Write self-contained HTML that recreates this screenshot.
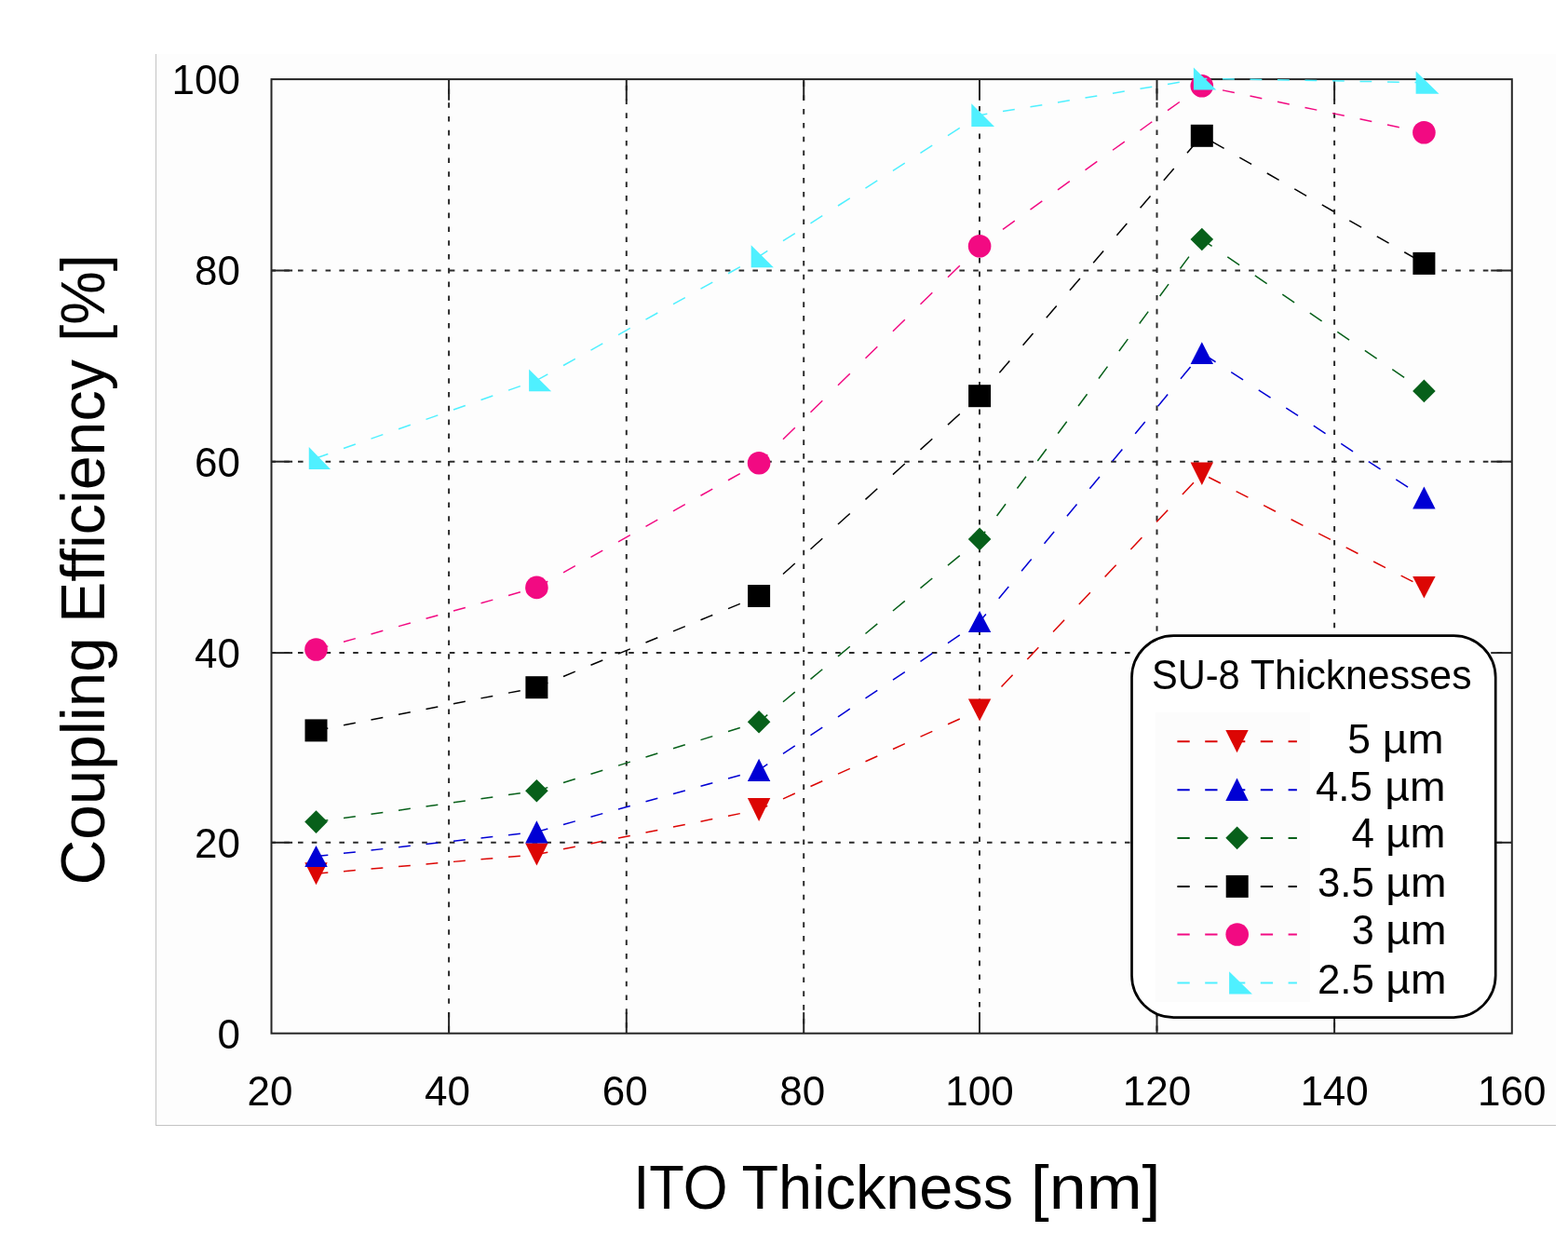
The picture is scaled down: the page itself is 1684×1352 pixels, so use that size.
<!DOCTYPE html>
<html><head><meta charset="utf-8"><title>Coupling Efficiency vs ITO Thickness</title>
<style>
html,body{margin:0;padding:0;background:#fff;}
body{width:1684px;height:1352px;overflow:hidden;}
svg{display:block;}
</style></head><body>
<svg width="1684" height="1352" viewBox="0 0 1684 1352">
<rect x="0" y="0" width="1684" height="1352" fill="#ffffff"/>
<rect x="168" y="58" width="1503" height="1150" fill="#fdfdfd"/>
<rect x="167" y="58" width="1" height="1151" fill="#c3c3c3"/>
<rect x="167" y="1208" width="1504" height="1" fill="#c3c3c3"/>
<line x1="291.5" y1="904.8" x2="1623.8" y2="904.8" stroke="#2b2b2b" stroke-width="2" stroke-dasharray="5.6 9.2" stroke-dashoffset="1.12"/>
<line x1="291.5" y1="701.1" x2="1623.8" y2="701.1" stroke="#2b2b2b" stroke-width="2" stroke-dasharray="5.6 9.2" stroke-dashoffset="1.12"/>
<line x1="291.5" y1="495.7" x2="1623.8" y2="495.7" stroke="#2b2b2b" stroke-width="2" stroke-dasharray="5.6 9.2" stroke-dashoffset="1.12"/>
<line x1="291.5" y1="290.5" x2="1623.8" y2="290.5" stroke="#2b2b2b" stroke-width="2" stroke-dasharray="5.6 9.2" stroke-dashoffset="1.12"/>
<line x1="482.1" y1="85.1" x2="482.1" y2="1109.7" stroke="#2b2b2b" stroke-width="2" stroke-dasharray="5.6 9.2" stroke-dashoffset="4.51"/>
<line x1="672.8" y1="85.1" x2="672.8" y2="1109.7" stroke="#2b2b2b" stroke-width="2" stroke-dasharray="5.6 9.2" stroke-dashoffset="8.21"/>
<line x1="863.2" y1="85.1" x2="863.2" y2="1109.7" stroke="#2b2b2b" stroke-width="2" stroke-dasharray="5.6 9.2" stroke-dashoffset="12.41"/>
<line x1="1052" y1="85.1" x2="1052" y2="1109.7" stroke="#2b2b2b" stroke-width="2" stroke-dasharray="5.6 9.2" stroke-dashoffset="0.72"/>
<line x1="1242.5" y1="85.1" x2="1242.5" y2="1109.7" stroke="#2b2b2b" stroke-width="2" stroke-dasharray="5.6 9.2" stroke-dashoffset="4.92"/>
<line x1="1433.1" y1="85.1" x2="1433.1" y2="1109.7" stroke="#2b2b2b" stroke-width="2" stroke-dasharray="5.6 9.2" stroke-dashoffset="8.42"/>
<g stroke="#262626" stroke-width="2"><line x1="291.5" y1="904.8" x2="314.1" y2="904.8"/><line x1="1623.8" y1="904.8" x2="1601.2" y2="904.8"/><line x1="291.5" y1="701.1" x2="314.1" y2="701.1"/><line x1="1623.8" y1="701.1" x2="1601.2" y2="701.1"/><line x1="291.5" y1="495.7" x2="314.1" y2="495.7"/><line x1="1623.8" y1="495.7" x2="1601.2" y2="495.7"/><line x1="291.5" y1="290.5" x2="314.1" y2="290.5"/><line x1="1623.8" y1="290.5" x2="1601.2" y2="290.5"/><line x1="482.1" y1="1109.7" x2="482.1" y2="1087.1"/><line x1="482.1" y1="85.1" x2="482.1" y2="107.7"/><line x1="672.8" y1="1109.7" x2="672.8" y2="1087.1"/><line x1="672.8" y1="85.1" x2="672.8" y2="107.7"/><line x1="863.2" y1="1109.7" x2="863.2" y2="1087.1"/><line x1="863.2" y1="85.1" x2="863.2" y2="107.7"/><line x1="1052" y1="1109.7" x2="1052" y2="1087.1"/><line x1="1052" y1="85.1" x2="1052" y2="107.7"/><line x1="1242.5" y1="1109.7" x2="1242.5" y2="1087.1"/><line x1="1242.5" y1="85.1" x2="1242.5" y2="107.7"/><line x1="1433.1" y1="1109.7" x2="1433.1" y2="1087.1"/><line x1="1433.1" y1="85.1" x2="1433.1" y2="107.7"/></g>
<rect x="291.5" y="85.1" width="1332.3" height="1024.6" fill="none" stroke="#262626" stroke-width="2"/>
<line x1="339.5" y1="938.2" x2="576.4" y2="917.6" stroke="#dc0604" stroke-width="1.5" stroke-dasharray="12.85 16.76" stroke-dashoffset="0"/>
<line x1="576.4" y1="917.6" x2="815.1" y2="869.55" stroke="#dc0604" stroke-width="1.5" stroke-dasharray="13.06 17.03" stroke-dashoffset="0.92"/>
<line x1="815.1" y1="869.55" x2="1052.1" y2="762.35" stroke="#dc0604" stroke-width="1.5" stroke-dasharray="14.05 18.33" stroke-dashoffset="3.95"/>
<line x1="1052.1" y1="762.35" x2="1290.8" y2="508.75" stroke="#dc0604" stroke-width="1.5" stroke-dasharray="17.58 22.93" stroke-dashoffset="6.32"/>
<line x1="1290.8" y1="508.75" x2="1529.4" y2="630.75" stroke="#dc0604" stroke-width="1.5" stroke-dasharray="14.38 18.76" stroke-dashoffset="24.93"/>
<path d="M327.3 926.2L351.7 926.2L339.5 950.2Z" fill="#dc0604"/><path d="M564.2 905.6L588.6 905.6L576.4 929.6Z" fill="#dc0604"/><path d="M802.9 857.1L827.3 857.1L815.1 882Z" fill="#dc0604"/><path d="M1039.9 750.4L1064.3 750.4L1052.1 774.3Z" fill="#dc0604"/><path d="M1278.6 496.6L1303 496.6L1290.8 520.9Z" fill="#dc0604"/><path d="M1517.2 618.9L1541.6 618.9L1529.4 642.6Z" fill="#dc0604"/>
<line x1="339.5" y1="919.55" x2="576.4" y2="893.4" stroke="#0000d4" stroke-width="1.5" stroke-dasharray="12.88 16.8" stroke-dashoffset="0"/>
<line x1="576.4" y1="893.4" x2="815.1" y2="826.85" stroke="#0000d4" stroke-width="1.5" stroke-dasharray="13.29 17.34" stroke-dashoffset="0.93"/>
<line x1="815.1" y1="826.85" x2="1052.1" y2="667.6" stroke="#0000d4" stroke-width="1.5" stroke-dasharray="15.42 20.12" stroke-dashoffset="4.34"/>
<line x1="1052.1" y1="667.6" x2="1290.8" y2="379.15" stroke="#0000d4" stroke-width="1.5" stroke-dasharray="16.61 21.68" stroke-dashoffset="5.97"/>
<line x1="1290.8" y1="379.15" x2="1529.4" y2="534.45" stroke="#0000d4" stroke-width="1.5" stroke-dasharray="15.27 19.93" stroke-dashoffset="32.87"/>
<path d="M339.5 908.1L351.7 931L327.3 931Z" fill="#0000d4"/><path d="M576.4 881.2L588.6 905.6L564.2 905.6Z" fill="#0000d4"/><path d="M815.1 814.7L827.3 839L802.9 839Z" fill="#0000d4"/><path d="M1052.1 656.1L1064.3 679.1L1039.9 679.1Z" fill="#0000d4"/><path d="M1290.8 367.2L1303 391.1L1278.6 391.1Z" fill="#0000d4"/><path d="M1529.4 522.5L1541.6 546.4L1517.2 546.4Z" fill="#0000d4"/>
<line x1="339.5" y1="882.6" x2="576.4" y2="849.3" stroke="#07601a" stroke-width="1.5" stroke-dasharray="12.93 16.86" stroke-dashoffset="0"/>
<line x1="576.4" y1="849.3" x2="815.1" y2="775.2" stroke="#07601a" stroke-width="1.5" stroke-dasharray="13.4 17.49" stroke-dashoffset="0.94"/>
<line x1="815.1" y1="775.2" x2="1052.1" y2="578.9" stroke="#07601a" stroke-width="1.5" stroke-dasharray="16.62 21.68" stroke-dashoffset="4.67"/>
<line x1="1052.1" y1="578.9" x2="1290.8" y2="257" stroke="#07601a" stroke-width="1.5" stroke-dasharray="15.94 20.79" stroke-dashoffset="5.73"/>
<line x1="1290.8" y1="257" x2="1529.4" y2="419.9" stroke="#07601a" stroke-width="1.5" stroke-dasharray="15.5 20.22" stroke-dashoffset="2.42"/>
<path d="M339.5 870.3L351.8 882.6L339.5 894.9L327.2 882.6Z" fill="#07601a"/><path d="M576.4 837L588.7 849.3L576.4 861.6L564.1 849.3Z" fill="#07601a"/><path d="M815.1 762.9L827.4 775.2L815.1 787.5L802.8 775.2Z" fill="#07601a"/><path d="M1052.1 566.6L1064.4 578.9L1052.1 591.2L1039.8 578.9Z" fill="#07601a"/><path d="M1290.8 244.7L1303.1 257L1290.8 269.3L1278.5 257Z" fill="#07601a"/><path d="M1529.4 407.6L1541.7 419.9L1529.4 432.2L1517.1 419.9Z" fill="#07601a"/>
<line x1="339.5" y1="784.4" x2="576.4" y2="738.2" stroke="#000000" stroke-width="1.5" stroke-dasharray="13.04 17.01" stroke-dashoffset="0"/>
<line x1="576.4" y1="738.2" x2="815.1" y2="640" stroke="#000000" stroke-width="1.5" stroke-dasharray="13.84 18.06" stroke-dashoffset="0.97"/>
<line x1="815.1" y1="640" x2="1052.1" y2="425.2" stroke="#000000" stroke-width="1.5" stroke-dasharray="17.27 22.54" stroke-dashoffset="4.86"/>
<line x1="1052.1" y1="425.2" x2="1290.8" y2="145.8" stroke="#000000" stroke-width="1.5" stroke-dasharray="16.84 21.96" stroke-dashoffset="6.05"/>
<line x1="1290.8" y1="145.8" x2="1529.4" y2="282.9" stroke="#000000" stroke-width="1.5" stroke-dasharray="14.76 19.26" stroke-dashoffset="21.34"/>
<rect x="327.5" y="772.4" width="24" height="24" fill="#000000"/><rect x="564.4" y="726.2" width="24" height="24" fill="#000000"/><rect x="803.1" y="628" width="24" height="24" fill="#000000"/><rect x="1040.1" y="413.2" width="24" height="24" fill="#000000"/><rect x="1278.8" y="133.8" width="24" height="24" fill="#000000"/><rect x="1517.4" y="270.9" width="24" height="24" fill="#000000"/>
<line x1="339.5" y1="697.5" x2="576.4" y2="630.9" stroke="#f20a82" stroke-width="1.5" stroke-dasharray="13.3 17.35" stroke-dashoffset="0"/>
<line x1="576.4" y1="630.9" x2="815.1" y2="497.2" stroke="#f20a82" stroke-width="1.5" stroke-dasharray="14.67 19.14" stroke-dashoffset="1.03"/>
<line x1="815.1" y1="497.2" x2="1052.1" y2="264.3" stroke="#f20a82" stroke-width="1.5" stroke-dasharray="17.95 23.41" stroke-dashoffset="5.05"/>
<line x1="1052.1" y1="264.3" x2="1290.8" y2="92.2" stroke="#f20a82" stroke-width="1.5" stroke-dasharray="15.78 20.59" stroke-dashoffset="5.67"/>
<line x1="1290.8" y1="92.2" x2="1529.4" y2="142.3" stroke="#f20a82" stroke-width="1.5" stroke-dasharray="13.08 17.06" stroke-dashoffset="7.46"/>
<circle cx="339.5" cy="697.5" r="12.3" fill="#f20a82"/><circle cx="576.4" cy="630.9" r="12.3" fill="#f20a82"/><circle cx="815.1" cy="497.2" r="12.3" fill="#f20a82"/><circle cx="1052.1" cy="264.3" r="12.3" fill="#f20a82"/><circle cx="1290.8" cy="92.2" r="12.3" fill="#f20a82"/><circle cx="1529.4" cy="142.3" r="12.3" fill="#f20a82"/>
<line x1="339.5" y1="491.95" x2="576.4" y2="408.45" stroke="#4ff0ff" stroke-width="1.5" stroke-dasharray="13.57 17.71" stroke-dashoffset="0"/>
<line x1="576.4" y1="408.45" x2="815.1" y2="275.3" stroke="#4ff0ff" stroke-width="1.5" stroke-dasharray="14.66 19.12" stroke-dashoffset="1.03"/>
<line x1="815.1" y1="275.3" x2="1052.1" y2="123.7" stroke="#4ff0ff" stroke-width="1.5" stroke-dasharray="15.19 19.82" stroke-dashoffset="4.27"/>
<line x1="1052.1" y1="123.7" x2="1290.8" y2="84.4" stroke="#4ff0ff" stroke-width="1.5" stroke-dasharray="12.97 16.92" stroke-dashoffset="4.66"/>
<line x1="1290.8" y1="84.4" x2="1529.4" y2="88.6" stroke="#4ff0ff" stroke-width="1.5" stroke-dasharray="12.8 16.7" stroke-dashoffset="7.3"/>
<path d="M331.75 479.9L355.05 504L331.75 504Z" fill="#4ff0ff"/><path d="M568.1 396.6L592.1 420.3L568.1 420.3Z" fill="#4ff0ff"/><path d="M806.7 263.3L830.9 287.3L806.7 287.3Z" fill="#4ff0ff"/><path d="M1043.3 111.3L1068 136.1L1043.3 136.1Z" fill="#4ff0ff"/><path d="M1281.9 72.4L1306.3 96.4L1281.9 96.4Z" fill="#4ff0ff"/><path d="M1520.6 76.4L1545.5 100.8L1520.6 100.8Z" fill="#4ff0ff"/>
<g font-family="'Liberation Sans', Arial, sans-serif" font-size="44" fill="#000"><text x="257.9" y="1125.5" text-anchor="end">0</text><text x="257.9" y="920.6" text-anchor="end">20</text><text x="257.9" y="716.9" text-anchor="end">40</text><text x="257.9" y="511.5" text-anchor="end">60</text><text x="257.9" y="306.3" text-anchor="end">80</text><text x="257.9" y="100.9" text-anchor="end">100</text><text x="290" y="1186.6" text-anchor="middle">20</text><text x="480.6" y="1186.6" text-anchor="middle">40</text><text x="671.3" y="1186.6" text-anchor="middle">60</text><text x="861.7" y="1186.6" text-anchor="middle">80</text><text x="1052" y="1186.6" text-anchor="middle">100</text><text x="1242.5" y="1186.6" text-anchor="middle">120</text><text x="1433.1" y="1186.6" text-anchor="middle">140</text><text x="1623.8" y="1186.6" text-anchor="middle">160</text></g>
<rect x="1215.5" y="682.6" width="390.7" height="410" rx="45" ry="45" fill="#ffffff" stroke="#000" stroke-width="2.7"/><rect x="1240.7" y="765.2" width="166.3" height="310.7" fill="#fcfcfc"/><line x1="1264.4" y1="796.2" x2="1392.9" y2="796.2" stroke="#dc0604" stroke-width="2" stroke-dasharray="13.3 16.5"/><line x1="1264.4" y1="848.2" x2="1392.9" y2="848.2" stroke="#0000d4" stroke-width="2" stroke-dasharray="13.3 16.5"/><line x1="1264.4" y1="899.9" x2="1392.9" y2="899.9" stroke="#07601a" stroke-width="2" stroke-dasharray="13.3 16.5"/><line x1="1264.4" y1="952" x2="1392.9" y2="952" stroke="#000000" stroke-width="2" stroke-dasharray="13.3 16.5"/><line x1="1264.4" y1="1003.6" x2="1392.9" y2="1003.6" stroke="#f20a82" stroke-width="2" stroke-dasharray="13.3 16.5"/><line x1="1264.4" y1="1055.6" x2="1392.9" y2="1055.6" stroke="#4ff0ff" stroke-width="2" stroke-dasharray="13.3 16.5"/><path d="M1316.3 783.9L1340.7 783.9L1328.5 808.3Z" fill="#dc0604"/><path d="M1328.5 835.5L1340.7 859.9L1316.3 859.9Z" fill="#0000d4"/><path d="M1328.6 887.55L1340.9 899.85L1328.6 912.15L1316.3 899.85Z" fill="#07601a"/><rect x="1316.7" y="939.9" width="24" height="24" fill="#000000"/><circle cx="1328.7" cy="1003.5" r="12.3" fill="#f20a82"/><path d="M1320.1 1043.2L1344.9 1067.6L1320.1 1067.6Z" fill="#4ff0ff"/>
<g font-family="'Liberation Sans', Arial, sans-serif" fill="#000"><text x="1236.97" y="739.7" font-size="43.5" textLength="94.78" lengthAdjust="spacingAndGlyphs">SU-8</text><text x="1343.02" y="739.7" font-size="43.5" textLength="237.49" lengthAdjust="spacingAndGlyphs">Thicknesses</text><text x="1447.21" y="809.2" font-size="44" textLength="24.69" lengthAdjust="spacingAndGlyphs">5</text><text x="1484.83" y="809.2" font-size="44" textLength="65.67" lengthAdjust="spacingAndGlyphs">µm</text><text x="1412.99" y="859.5" font-size="44" textLength="60.79" lengthAdjust="spacingAndGlyphs">4.5</text><text x="1487.3" y="859.5" font-size="44" textLength="65.19" lengthAdjust="spacingAndGlyphs">µm</text><text x="1451.42" y="909.8" font-size="44" textLength="24.41" lengthAdjust="spacingAndGlyphs">4</text><text x="1488.29" y="909.8" font-size="44" textLength="64.17" lengthAdjust="spacingAndGlyphs">µm</text><text x="1414.95" y="963.3" font-size="44" textLength="60.82" lengthAdjust="spacingAndGlyphs">3.5</text><text x="1488.31" y="963.3" font-size="44" textLength="65.19" lengthAdjust="spacingAndGlyphs">µm</text><text x="1451.79" y="1013.6" font-size="44" textLength="24.06" lengthAdjust="spacingAndGlyphs">3</text><text x="1488.31" y="1013.6" font-size="44" textLength="65.19" lengthAdjust="spacingAndGlyphs">µm</text><text x="1414.92" y="1066.8" font-size="44" textLength="60.85" lengthAdjust="spacingAndGlyphs">2.5</text><text x="1488.31" y="1066.8" font-size="44" textLength="65.19" lengthAdjust="spacingAndGlyphs">µm</text><text x="680.15" y="1297.7" font-size="67.5" textLength="101.31" lengthAdjust="spacingAndGlyphs">ITO</text><text x="796.52" y="1297.7" font-size="67.5" textLength="291.57" lengthAdjust="spacingAndGlyphs">Thickness</text><text x="1106.76" y="1297.7" font-size="67.5" textLength="139.84" lengthAdjust="spacingAndGlyphs">[nm]</text><text transform="translate(112 950.5) rotate(-90)" x="0" y="0" font-size="67.5" textLength="266.27" lengthAdjust="spacingAndGlyphs">Coupling</text><text transform="translate(112 668.95) rotate(-90)" x="0" y="0" font-size="67.5" textLength="282.77" lengthAdjust="spacingAndGlyphs">Efficiency</text><text transform="translate(112 366.82) rotate(-90)" x="0" y="0" font-size="67.5" textLength="93.64" lengthAdjust="spacingAndGlyphs">[%]</text></g>
</svg>
</body></html>
